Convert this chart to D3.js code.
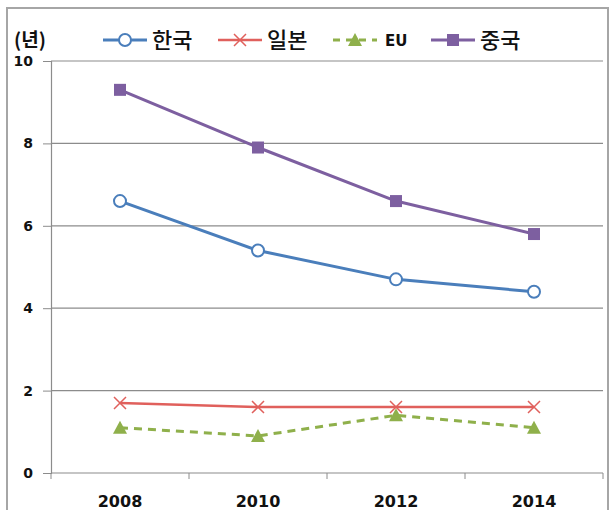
<!DOCTYPE html>
<html>
<head>
<meta charset="utf-8">
<script src="https://cdn.jsdelivr.net/npm/d3@7"></script>
<style>
  html, body { margin: 0; padding: 0; background: #fff; }
  svg { display: block; }
</style>
</head>
<body>
<svg id="chart" width="610" height="510"></svg>
<script>
// Years on the category axis
const years = ["2008", "2010", "2012", "2014"];
// Values per country (unit: years)
const korea = [6.6, 5.4, 4.7, 4.4];
const japan = [1.7, 1.6, 1.6, 1.6];
const eu = [1.1, 0.9, 1.4, 1.1];
const china = [9.3, 7.9, 6.6, 5.8];
const yTicks = [0, 2, 4, 6, 8, 10];
const seriesNames = ["한국", "일본", "EU", "중국"];

const series = [
  { name: seriesNames[0], values: korea, color: "#4A7EBB", width: 3, dash: null, marker: "circle" },
  { name: seriesNames[1], values: japan, color: "#E0605C", width: 2.5, dash: null, marker: "cross" },
  { name: seriesNames[2], values: eu, color: "#8FB04B", width: 3, dash: "8,6", marker: "triangle" },
  { name: seriesNames[3], values: china, color: "#7D5FA0", width: 3, dash: null, marker: "square" }
];

const latinFont = "'DejaVu Sans', Verdana, sans-serif";
const koreanFont = "'Noto Sans CJK KR', sans-serif";

const svg = d3.select("#chart");
const plotLeft = 51, plotRight = 603, plotTop = 61, plotBottom = 473;

const x = d3.scaleBand().domain(years).range([plotLeft, plotRight]);
const y = d3.scaleLinear().domain([0, 10]).range([plotBottom, plotTop]);

// Outer frame
svg.append("rect")
  .attr("x", 7).attr("y", 8).attr("width", 601).attr("height", 510)
  .attr("fill", "none").attr("stroke", "#a6a6a6").attr("stroke-width", 2);

// Horizontal gridlines
svg.append("g")
  .selectAll("line")
  .data(yTicks.filter(d => d > 0))
  .join("line")
  .attr("x1", plotLeft).attr("x2", plotRight)
  .attr("y1", d => y(d)).attr("y2", d => y(d))
  .attr("stroke", "#8c8c8c").attr("stroke-width", 1.2);

// Y axis
const yAxis = svg.append("g")
  .attr("transform", `translate(${plotLeft},0)`)
  .call(d3.axisLeft(y).tickValues(yTicks).tickSize(8).tickPadding(6).tickFormat(d3.format("d")));
yAxis.select(".domain").attr("stroke", "#8c8c8c").attr("stroke-width", 1.2);
yAxis.selectAll(".tick line").attr("stroke", "#8c8c8c");
yAxis.selectAll(".tick text")
  .attr("fill", "#111")
  .style("font-family", latinFont)
  .style("font-weight", "bold")
  .style("font-size", "14px")
  .attr("x", -18).attr("text-anchor", "end");

// X axis with ticks at category boundaries
const xAxisG = svg.append("g").attr("transform", `translate(0,${plotBottom})`);
xAxisG.append("line")
  .attr("x1", plotLeft).attr("x2", plotRight).attr("y1", 0).attr("y2", 0)
  .attr("stroke", "#8c8c8c").attr("stroke-width", 1.2);
const boundaries = years.map(d => x(d)).concat([x(years[years.length - 1]) + x.bandwidth()]);
xAxisG.selectAll("line.b")
  .data(boundaries)
  .join("line").attr("class", "b")
  .attr("x1", d => d).attr("x2", d => d)
  .attr("y1", 0).attr("y2", 6)
  .attr("stroke", "#8c8c8c");
xAxisG.selectAll("text")
  .data(years)
  .join("text")
  .attr("x", d => x(d) + x.bandwidth() / 2)
  .attr("y", 34)
  .attr("text-anchor", "middle")
  .attr("fill", "#111")
  .style("font-family", latinFont)
  .style("font-weight", "bold")
  .style("font-size", "16px")
  .text(d => d);

function drawMarker(g, type, color, cx, cy) {
  if (type === "circle") {
    g.append("circle").attr("cx", cx).attr("cy", cy).attr("r", 6)
      .attr("fill", "#fff").attr("stroke", color).attr("stroke-width", 2);
  } else if (type === "square") {
    g.append("rect").attr("x", cx - 6).attr("y", cy - 6).attr("width", 12).attr("height", 12)
      .attr("fill", color);
  } else if (type === "triangle") {
    g.append("path").attr("d", `M${cx},${cy - 7}L${cx + 7},${cy + 6}L${cx - 7},${cy + 6}Z`)
      .attr("fill", color);
  } else if (type === "cross") {
    g.append("path").attr("d", `M${cx - 6},${cy - 6}L${cx + 6},${cy + 6}M${cx + 6},${cy - 6}L${cx - 6},${cy + 6}`)
      .attr("stroke", color).attr("stroke-width", 1.5).attr("fill", "none");
  }
}

const line = d3.line()
  .x((d, i) => x(years[i]) + x.bandwidth() / 2)
  .y(d => y(d));

// Series lines and markers (EU and Japan first so the others sit on top)
[series[2], series[1], series[0], series[3]].forEach(s => {
  const g = svg.append("g");
  g.append("path")
    .attr("d", line(s.values))
    .attr("fill", "none")
    .attr("stroke", s.color)
    .attr("stroke-width", s.width)
    .attr("stroke-dasharray", s.dash)
    .attr("stroke-linejoin", "round");
  s.values.forEach((v, i) => drawMarker(g, s.marker, s.color, x(years[i]) + x.bandwidth() / 2, y(v)));
});

// Unit label
svg.append("text")
  .attr("x", 14).attr("y", 47)
  .attr("fill", "#111")
  .style("font-family", koreanFont)
  .style("font-weight", "bold")
  .style("font-size", "19px")
  .text("(년)");

// Legend
const legendX = [103, 218, 333, 431];
const legendY = 40;
series.forEach((s, i) => {
  const g = svg.append("g");
  const x0 = legendX[i], x1 = x0 + 44;
  g.append("line")
    .attr("x1", x0).attr("x2", x1).attr("y1", legendY).attr("y2", legendY)
    .attr("stroke", s.color).attr("stroke-width", s.width)
    .attr("stroke-dasharray", s.dash ? "7,6" : null);
  drawMarker(g, s.marker, s.color, (x0 + x1) / 2, legendY);
  const isLatin = s.name === "EU";
  g.append("text")
    .attr("x", x1 + (isLatin ? 8 : 5)).attr("y", legendY + (isLatin ? 6 : 8))
    .attr("fill", "#111")
    .style("font-family", isLatin ? latinFont : koreanFont)
    .style("font-weight", isLatin ? "bold" : "500")
    .style("font-size", isLatin ? "15px" : "22px")
    .text(s.name);
});
</script>
</body>
</html>
